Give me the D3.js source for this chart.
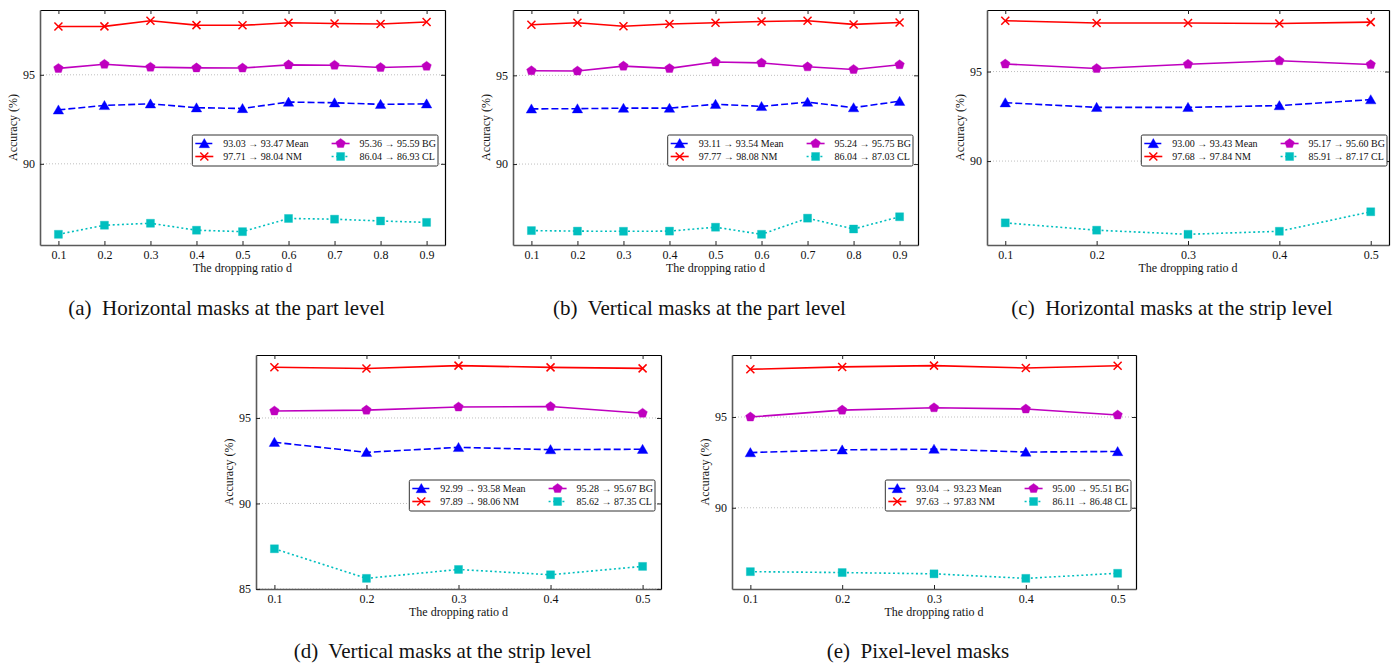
<!DOCTYPE html>
<html>
<head>
<meta charset="utf-8">
<script src="https://cdn.jsdelivr.net/npm/d3@7"></script>
<style>
  body { margin: 0; background: #fff; }
  svg { display: block; font-family: "Liberation Serif", "Times New Roman", serif; }
</style>
</head>
<body>
<svg id="fig" width="1392" height="664"></svg>
<script>
`use strict`;

const ratiosPart = [0.1, 0.2, 0.3, 0.4, 0.5, 0.6, 0.7, 0.8, 0.9];
const ratiosStrip = [0.1, 0.2, 0.3, 0.4, 0.5];

// (a) horizontal, part level
const meanA = [93.03, 93.28, 93.37, 93.15, 93.11, 93.47, 93.43, 93.34, 93.37];
const nmA = [97.71, 97.72, 98.04, 97.79, 97.78, 97.92, 97.88, 97.85, 97.97];
const bgA = [95.36, 95.59, 95.43, 95.39, 95.38, 95.56, 95.54, 95.41, 95.48];
const clA = [86.04, 86.55, 86.66, 86.27, 86.19, 86.93, 86.89, 86.79, 86.71];
const legendA = [`93.03 → 93.47 Mean`, `97.71 → 98.04 NM`, `95.36 → 95.59 BG`, `86.04 → 86.93 CL`];

// (b) vertical, part level
const meanB = [93.11, 93.12, 93.15, 93.15, 93.37, 93.25, 93.49, 93.18, 93.54];
const nmB = [97.85, 97.96, 97.77, 97.89, 97.96, 98.03, 98.08, 97.87, 97.98];
const bgB = [95.26, 95.24, 95.52, 95.39, 95.75, 95.70, 95.48, 95.33, 95.60];
const clB = [86.25, 86.22, 86.21, 86.22, 86.44, 86.04, 86.95, 86.34, 87.03];
const legendB = [`93.11 → 93.54 Mean`, `97.77 → 98.08 NM`, `95.24 → 95.75 BG`, `86.04 → 87.03 CL`];

// (c) horizontal, strip level
const meanC = [93.26, 93.00, 93.00, 93.10, 93.43];
const nmC = [97.84, 97.71, 97.71, 97.68, 97.76];
const bgC = [95.42, 95.17, 95.41, 95.60, 95.39];
const clC = [86.55, 86.14, 85.91, 86.08, 87.17];
const legendC = [`93.00 → 93.43 Mean`, `97.68 → 97.84 NM`, `95.17 → 95.60 BG`, `85.91 → 87.17 CL`];

// (d) vertical, strip level
const meanD = [93.58, 92.99, 93.28, 93.15, 93.17];
const nmD = [97.97, 97.89, 98.06, 97.96, 97.90];
const bgD = [95.41, 95.46, 95.64, 95.67, 95.28];
const clD = [87.35, 85.62, 86.14, 85.83, 86.32];
const legendD = [`92.99 → 93.58 Mean`, `97.89 → 98.06 NM`, `95.28 → 95.67 BG`, `85.62 → 87.35 CL`];

// (e) pixel level
const meanE = [93.04, 93.19, 93.23, 93.07, 93.10];
const nmE = [97.63, 97.76, 97.83, 97.70, 97.82];
const bgE = [95.00, 95.38, 95.51, 95.44, 95.11];
const clE = [86.48, 86.43, 86.36, 86.11, 86.39];
const legendE = [`93.04 → 93.23 Mean`, `97.63 → 97.83 NM`, `95.00 → 95.51 BG`, `86.11 → 86.48 CL`];

const captions = [
  `(a)  Horizontal masks at the part level`,
  `(b)  Vertical masks at the part level`,
  `(c)  Horizontal masks at the strip level`,
  `(d)  Vertical masks at the strip level`,
  `(e)  Pixel-level masks`
];

// matplotlib-ish markers, size = bounding box width
const symTri = {
  draw(ctx, size) {
    const h = size / 2;
    ctx.moveTo(0, -h * 0.95);
    ctx.lineTo(h, h * 0.8);
    ctx.lineTo(-h, h * 0.8);
    ctx.closePath();
  }
};

const symPent = {
  draw(ctx, size) {
    const r = size / 2;
    d3.range(5).forEach(k => {
      const a = -Math.PI / 2 + k * 2 * Math.PI / 5;
      k === 0 ? ctx.moveTo(r * Math.cos(a), r * Math.sin(a)) : ctx.lineTo(r * Math.cos(a), r * Math.sin(a));
    });
    ctx.closePath();
  }
};

const symSq = {
  draw(ctx, size) {
    const h = size / 2;
    ctx.rect(-h, -h, size, size);
  }
};

const symX = {
  draw(ctx, size) {
    const h = size / 2;
    ctx.moveTo(-h, -h); ctx.lineTo(h, h);
    ctx.moveTo(h, -h); ctx.lineTo(-h, h);
  }
};

// plotting order = legend order (ncol=2 fills by column)
const series = [
  {color: `#0000ff`, dash: `7,3`, sym: symTri, size: 10.5, stroke: false},
  {color: `#ff0000`, dash: null, sym: symX, size: 8, stroke: true},
  {color: `#bf00bf`, dash: null, sym: symPent, size: 10, stroke: false},
  {color: `#00bfbf`, dash: `2,2.6`, sym: symSq, size: 8, stroke: false}
];

const panels = [
  {cap: captions[0], ratios: ratiosPart, vals: [meanA, nmA, bgA, clA], legend: legendA, box: [40, 10, 445, 245], lgPad: 7, capY: 315},
  {cap: captions[1], ratios: ratiosPart, vals: [meanB, nmB, bgB, clB], legend: legendB, box: [513, 10, 918, 245], lgPad: 5, capY: 315},
  {cap: captions[2], ratios: ratiosStrip, vals: [meanC, nmC, bgC, clC], legend: legendC, box: [987, 10, 1389, 245], lgPad: 2, capY: 315},
  {cap: captions[3], ratios: ratiosStrip, vals: [meanD, nmD, bgD, clD], legend: legendD, box: [256, 355, 661, 589], lgPad: 6, capY: 658},
  {cap: captions[4], ratios: ratiosStrip, vals: [meanE, nmE, bgE, clE], legend: legendE, box: [732, 355, 1136, 589], lgPad: 5, capY: 658}
];

const svg = d3.select(`#fig`);

const drawMark = (g, s, cx, cy) => {
  g.append(`path`)
    .attr(`d`, d3.symbol(s.sym, s.size)())
    .attr(`transform`, `translate(${cx},${cy})`)
    .attr(`fill`, s.stroke ? `none` : s.color)
    .attr(`stroke`, s.color)
    .attr(`stroke-width`, s.stroke ? 1.5 : 0.6)
    .attr(`stroke-opacity`, s.stroke ? 1 : 0.6);
};

panels.forEach(P => {

  const [x0, y0, x1, y1] = P.box;

  const all = P.vals.flat();
  const lo = d3.min(all), hi = d3.max(all), pad = (hi - lo) * 0.05;
  const rlo = d3.min(P.ratios), rhi = d3.max(P.ratios), rpad = (rhi - rlo) * 0.05;

  const x = d3.scaleLinear().domain([rlo - rpad, rhi + rpad]).range([x0, x1]);
  const y = d3.scaleLinear().domain([lo - pad, hi + pad]).range([y1, y0]);

  const yTicks = d3.range(Math.ceil((lo - pad) / 5 - 1e-6) * 5, hi + pad, 5);

  const g = svg.append(`g`);

  // dotted grid
  g.selectAll(`line.grid`).data(yTicks)
    .enter()
    .append(`line`)
    .attr(`x1`, x0).attr(`x2`, x1)
    .attr(`y1`, d => y(d)).attr(`y2`, d => y(d))
    .attr(`stroke`, `#b8b8b8`)
    .attr(`stroke-width`, 0.9)
    .attr(`stroke-dasharray`, `1,2`);

  // axes, ticks pointing inward
  const axB = g.append(`g`).attr(`transform`, `translate(0,${y1})`)
    .call(d3.axisBottom(x).tickValues(P.ratios).tickFormat(d3.format(`.1f`)).tickSizeInner(-4).tickSizeOuter(0).tickPadding(5.5));
  const axT = g.append(`g`).attr(`transform`, `translate(0,${y0})`)
    .call(d3.axisTop(x).tickValues(P.ratios).tickFormat(``).tickSizeInner(-4).tickSizeOuter(0));
  const axL = g.append(`g`).attr(`transform`, `translate(${x0},0)`)
    .call(d3.axisLeft(y).tickValues(yTicks).tickFormat(d3.format(`d`)).tickSizeInner(-4).tickSizeOuter(0).tickPadding(5));
  const axR = g.append(`g`).attr(`transform`, `translate(${x1},0)`)
    .call(d3.axisRight(y).tickValues(yTicks).tickFormat(``).tickSizeInner(-4).tickSizeOuter(0));

  [axB, axL].forEach(a => {
    a.select(`.domain`).attr(`stroke`, `#5a5a5a`).attr(`stroke-width`, 1.6);
  });
  [axT, axR].forEach(a => {
    a.select(`.domain`).attr(`stroke`, `#000`).attr(`stroke-width`, 1.2);
  });
  [axB, axT, axL, axR].forEach(a => {
    a.selectAll(`.tick line`).attr(`stroke`, `#222`).attr(`stroke-width`, 1);
    a.selectAll(`.tick text`).attr(`font-family`, `"Liberation Serif", serif`).attr(`font-size`, 12).attr(`fill`, `#111`);
  });

  // axis titles
  g.append(`text`)
    .attr(`x`, (x0 + x1) / 2)
    .attr(`y`, y1 + 27)
    .attr(`text-anchor`, `middle`)
    .attr(`font-size`, 12)
    .attr(`fill`, `#111`)
    .text(`The dropping ratio d`);

  g.append(`text`)
    .attr(`transform`, `translate(${x0 - 23},${(y0 + y1) / 2}) rotate(-90)`)
    .attr(`text-anchor`, `middle`)
    .attr(`font-size`, 12)
    .attr(`fill`, `#111`)
    .text(`Accuracy (%)`);

  // series
  const line = d3.line()
    .x((d, i) => x(P.ratios[i]))
    .y(d => y(d));

  P.vals.forEach((vals, si) => {

    const s = series[si];

    g.append(`path`)
      .attr(`d`, line(vals))
      .attr(`fill`, `none`)
      .attr(`stroke`, s.color)
      .attr(`stroke-width`, 1.6)
      .attr(`stroke-dasharray`, s.dash);

    vals.forEach((v, i) => drawMark(g, s, x(P.ratios[i]), y(v)));
  });

  // legend, 2 columns
  const lg = g.append(`g`);

  const tmp = lg.selectAll(`text.tmp`).data(P.legend)
    .enter()
    .append(`text`)
    .attr(`font-size`, 10)
    .text(d => d);

  const widths = [];
  tmp.each(function () { widths.push(this.getComputedTextLength()); });
  tmp.remove();

  const w1 = Math.max(widths[0], widths[1]);
  const w2 = Math.max(widths[2], widths[3]);
  const col2 = 31 + w1 + 20;
  const lw = col2 + 28 + w2 + 5;
  const lh = 31;
  const lx = x1 - P.lgPad - lw;
  const ly = y0 + 125;

  lg.attr(`transform`, `translate(${lx},${ly})`);

  lg.append(`rect`)
    .attr(`width`, lw)
    .attr(`height`, lh)
    .attr(`rx`, 1.5)
    .attr(`fill`, `#fff`)
    .attr(`stroke`, `#333`)
    .attr(`stroke-width`, 1);

  P.legend.forEach((txt, li) => {

    const s = series[li];
    const cx = li < 2 ? 0 : col2;
    const cy = li % 2 === 0 ? 8.5 : 21.5;

    lg.append(`line`)
      .attr(`x1`, cx + 3).attr(`x2`, cx + 21)
      .attr(`y1`, cy).attr(`y2`, cy)
      .attr(`stroke`, s.color)
      .attr(`stroke-width`, 1.6)
      .attr(`stroke-dasharray`, s.dash);

    drawMark(lg, s, cx + 12, cy);

    lg.append(`text`)
      .attr(`x`, cx + 31)
      .attr(`y`, cy + 3.5)
      .attr(`font-size`, 10)
      .attr(`fill`, `#111`)
      .text(txt);
  });

  // caption
  svg.append(`text`)
    .attr(`x`, (x0 + x1) / 2 - 16)
    .attr(`y`, P.capY)
    .attr(`text-anchor`, `middle`)
    .attr(`font-size`, 21)
    .attr(`fill`, `#111`)
    .style(`white-space`, `pre`)
    .text(P.cap);
});
</script>
</body>
</html>
